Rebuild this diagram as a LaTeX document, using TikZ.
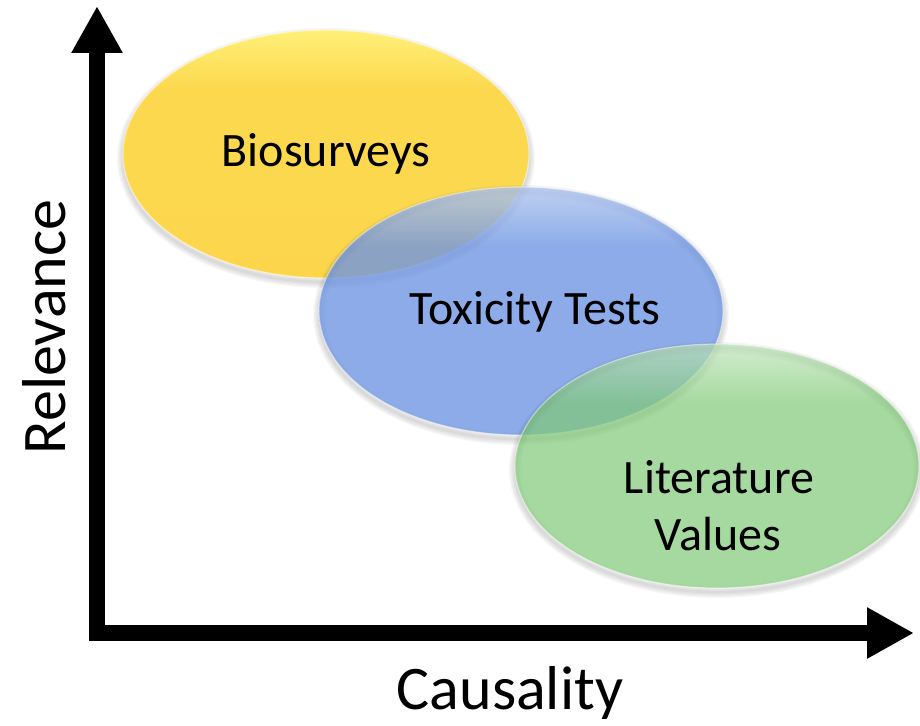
\documentclass[tikz,border=0pt]{standalone}
\usepackage{fontspec}
\setmainfont{Carlito}
\usetikzlibrary{arrows.meta,shapes.geometric}

\definecolor{yel}{RGB}{252,216,78}
\definecolor{yelTop}{RGB}{255,240,120}
\definecolor{blu}{RGB}{111,150,226}
\definecolor{grn}{RGB}{128,201,119}

% flat body with a light band along the top rim
\pgfdeclareverticalshading{yelshade}{100bp}{color(0bp)=(yel!96!orange); color(25bp)=(yel!96!orange);
  color(40bp)=(yel); color(63bp)=(yel); color(75bp)=(yelTop); color(100bp)=(yelTop)}
\pgfdeclareverticalshading{blushade}{100bp}{color(0bp)=(blu); color(25bp)=(blu);
  color(63bp)=(blu); color(75bp)=(blu!55!white); color(100bp)=(blu!55!white)}
\pgfdeclareverticalshading{grnshade}{100bp}{color(0bp)=(grn); color(25bp)=(grn);
  color(63bp)=(grn); color(75bp)=(grn!50!white); color(100bp)=(grn!50!white)}

\tikzset{
  blob/.style={ellipse, inner sep=0pt, shade, draw=white, draw opacity=0.45, line width=1.2pt},
  softshadow/.style={ellipse, inner sep=0pt, draw=black, draw opacity=0.03, fill=none},
  axisline/.style={line width=16pt, -{Triangle[length=47pt,width=48pt]}},
  lbl/.style={font=\fontsize{48}{57}\selectfont, anchor=base, inner sep=0pt},
  axlbl/.style={font=\fontsize{62}{70}\selectfont, anchor=base, inner sep=0pt},
}

\begin{document}
\begin{tikzpicture}[x=1pt,y=-1pt]
\useasboundingbox (0,0) rectangle (920,725);

% axes
\coordinate (ybase) at (97,641);
\coordinate (ytip) at (97,6);
\coordinate (xbase) at (89,633);
\coordinate (xtip) at (914,633);
\draw[axisline] (ybase) -- (ytip);
\draw[axisline] (xbase) -- (xtip);

\node[axlbl, rotate=90] (relevance) at (65,327) {Relevance};
\node[axlbl] (causality) at (510,709) {Causality};

% Biosurveys
\foreach \k in {1,...,5}
  \node[softshadow, line width=\k*2.4pt, minimum width=406pt, minimum height=248pt] at (326,158) {};
\node[blob, shading=yelshade, minimum width=406pt, minimum height=248pt] (bio) at (326,154) {};

% Toxicity Tests
\foreach \k in {1,...,5}
  \node[softshadow, line width=\k*2.4pt, minimum width=404pt, minimum height=248pt] at (521,315) {};
\node[blob, shading=blushade, fill opacity=0.8, minimum width=404pt, minimum height=248pt] (tox) at (521,311) {};

% Literature Values
\foreach \k in {1,...,5}
  \node[softshadow, line width=\k*2.4pt, minimum width=404pt, minimum height=244pt] at (717,470) {};
\node[blob, shading=grnshade, fill opacity=0.7, minimum width=404pt, minimum height=244pt] (lit) at (717,466) {};

% labels
\node[lbl] (biotext) at (326,166) {Biosurveys};
\node[lbl] (toxtext) at (535,324) {Toxicity Tests};
\node[lbl] (littext) at (719,493) {Literature};
\node[lbl] (valtext) at (718,550) {Values};
\end{tikzpicture}
\end{document}
